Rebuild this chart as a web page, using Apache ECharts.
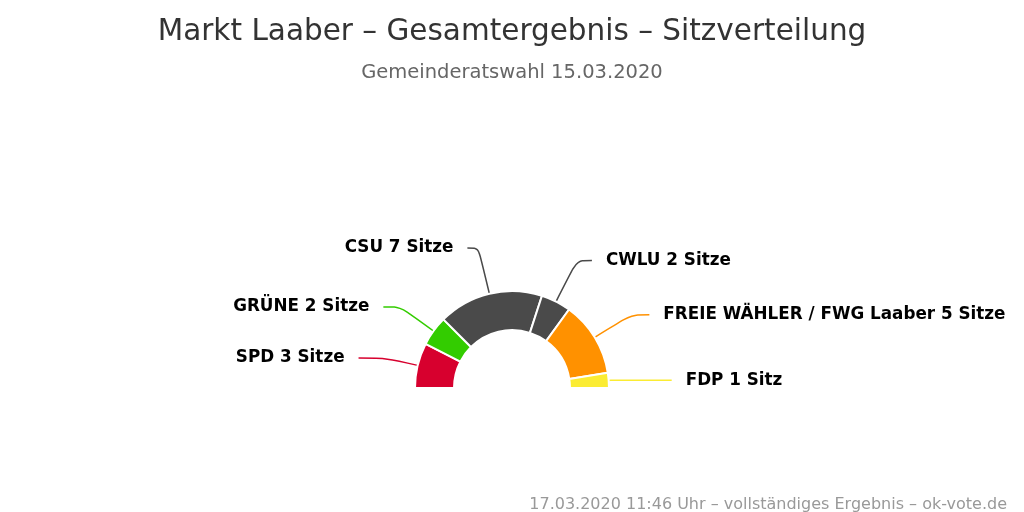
<!DOCTYPE html>
<html>
<head>
<meta charset="utf-8">
<script src="https://cdn.jsdelivr.net/npm/echarts@6/dist/echarts.min.js"></script>
<style>
  html, body { margin: 0; padding: 0; background: #fff; }
  #chart { width: 1024px; height: 512px; }
</style>
</head>
<body>
<div id="chart"></div>
<script>
// Sitzverteilung Gemeinderat Markt Laaber 2020
const parties = ['SPD', 'GRÜNE', 'CSU', 'CWLU', 'FREIE WÄHLER / FWG Laaber', 'FDP'];
const seats = [3, 2, 7, 2, 5, 1];
const colors = ['#d7002e', '#33cc00', '#4a4a4a', '#4a4a4a', '#ff9100', '#fbec33'];
// connector lengths so labels sit roughly where the original put them
const lineLen = [31, 41, 47, 46, 43, 2];
const lineLen2 = [29, 17, 11, 15, 18, 61];

const chart = echarts.init(document.getElementById('chart'));

chart.setOption({
    animation: false,
    title: [
        {
            text: 'Markt Laaber – Gesamtergebnis – Sitzverteilung',
            left: 'center',
            top: 12,
            textStyle: { fontFamily: 'DejaVu Sans', fontSize: 29.5, fontWeight: 'normal', color: '#333' }
        },
        {
            text: 'Gemeinderatswahl 15.03.2020',
            left: 'center',
            top: 58,
            textStyle: { fontFamily: 'DejaVu Sans', fontSize: 19.5, fontWeight: 'normal', color: '#666' }
        },
        {
            text: '17.03.2020 11:46 Uhr – vollständiges Ergebnis – ok-vote.de',
            right: 12,
            top: 492,
            textStyle: { fontFamily: 'DejaVu Sans', fontSize: 16, fontWeight: 'normal', color: '#999' }
        }
    ],
    series: [
        {
            type: 'pie',
            center: [512, 388],
            radius: [58, 97],
            startAngle: 180,
            endAngle: 0,
            clockwise: true,
            avoidLabelOverlap: false,
            itemStyle: { borderColor: '#fff', borderWidth: 2 },
            label: {
                show: true,
                position: 'outside',
                distanceToLabelLine: 14,
                fontFamily: 'DejaVu Sans',
                fontSize: 16.8,
                fontWeight: 'bold',
                color: '#000',
                formatter: p => p.name + ' ' + p.value + (p.value === 1 ? ' Sitz' : ' Sitze')
            },
            labelLine: { show: true, smooth: 0.3, lineStyle: { width: 1.5 } },
            emphasis: { disabled: true },
            data: parties.map((name, i) => ({
                name: name,
                value: seats[i],
                itemStyle: { color: colors[i] },
                labelLine: { length: lineLen[i], length2: lineLen2[i] }
            }))
        }
    ]
});
</script>
</body>
</html>
